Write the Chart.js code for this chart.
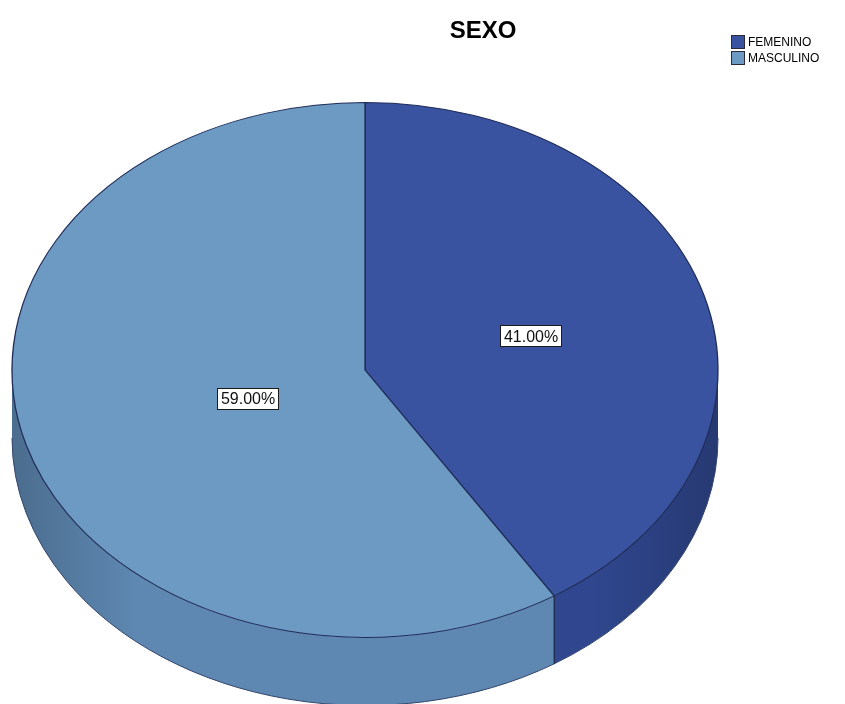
<!DOCTYPE html>
<html>
<head>
<meta charset="utf-8">
<title>SEXO</title>
<script src="https://cdn.jsdelivr.net/npm/chart.js@4.4.1/dist/chart.umd.min.js"></script>
<style>
  html, body { margin: 0; padding: 0; background: #fff; overflow: hidden; }
  #sexoChart { display: block; }
</style>
</head>
<body>
<canvas id="sexoChart" width="845" height="704"></canvas>
<script>
const chartTitle = 'SEXO';
const categories = ['FEMENINO', 'MASCULINO'];
const percentages = [41.00, 59.00];

// look of the slices
const topColors = ['#3a53a0', '#6d9ac3'];
const sideColors = ['#30478f', '#5e88b2'];
const labelRadius = [0.49, 0.345];   // label distance from centre, fraction of radius
const DEPTH = 68;                    // height of the cylinder wall in px
const FONT = '"Liberation Sans", Arial, sans-serif';

function shade(hex, f) {
    const n = parseInt(hex.slice(1), 16);
    const r = Math.round(((n >> 16) & 255) * f);
    const g = Math.round(((n >> 8) & 255) * f);
    const b = Math.round((n & 255) * f);
    return `rgb(${r},${g},${b})`;
}

// how much the round pie gets widened so it fills the chart area (makes the ellipse)
function stretchOf(chart) {
    const arc = chart.getDatasetMeta(0).data[0];
    return (chart.chartArea.width / 2) / arc.outerRadius;
}

const tiltedPie = {
    id: 'tiltedPie',
    beforeDatasetsDraw(chart) {
        const ctx = chart.ctx;
        const arcs = chart.getDatasetMeta(0).data;
        const {x, y, outerRadius} = arcs[0];
        const rx = outerRadius * stretchOf(chart);
        const ry = outerRadius;

        // front wall of the cylinder, only angles 0..PI can be seen
        arcs.forEach((arc, i) => {
            const a = arc.startAngle, b = arc.endAngle;
            const a0 = Math.max(a, 0), b0 = Math.min(b, Math.PI);
            if (b0 <= a0) return;

            const grad = ctx.createLinearGradient(x - rx, 0, x + rx, 0);
            grad.addColorStop(0, shade(sideColors[i], 0.8));
            grad.addColorStop(0.18, sideColors[i]);
            grad.addColorStop(0.82, sideColors[i]);
            grad.addColorStop(1, shade(sideColors[i], 0.8));

            ctx.save();
            ctx.beginPath();
            ctx.ellipse(x, y, rx, ry, 0, a0, b0);
            ctx.ellipse(x, y + DEPTH, rx, ry, 0, b0, a0, true);
            ctx.closePath();
            ctx.fillStyle = grad;
            ctx.fill();

            ctx.lineWidth = 1;
            ctx.strokeStyle = '#33446a';
            ctx.beginPath();
            ctx.ellipse(x, y + DEPTH, rx, ry, 0, a0, b0);
            ctx.stroke();

            // vertical edge where two slices meet
            [a, b].forEach(t => {
                if (t > 0 && t < Math.PI) {
                    const px = x + rx * Math.cos(t);
                    const py = y + ry * Math.sin(t);
                    ctx.beginPath();
                    ctx.moveTo(px, py);
                    ctx.lineTo(px, py + DEPTH);
                    ctx.strokeStyle = '#14203f';
                    ctx.stroke();
                }
            });
            ctx.restore();
        });

        // top face: widen the pie around its centre, restored after drawing
        ctx.save();
        ctx.translate(x, y);
        ctx.scale(stretchOf(chart), 1);
        ctx.translate(-x, -y);
    },
    afterDatasetsDraw(chart) {
        const ctx = chart.ctx;
        ctx.restore();

        const arcs = chart.getDatasetMeta(0).data;
        const sx = stretchOf(chart);
        ctx.save();
        ctx.font = '16px ' + FONT;
        ctx.textAlign = 'center';
        ctx.textBaseline = 'middle';
        arcs.forEach((arc, i) => {
            const mid = (arc.startAngle + arc.endAngle) / 2;
            const r = arc.outerRadius * labelRadius[i];
            const px = arc.x + sx * r * Math.cos(mid);
            const py = arc.y + r * Math.sin(mid) + 3;
            const text = percentages[i].toFixed(2) + '%';
            const w = Math.round(ctx.measureText(text).width + 8);
            const h = 22;
            const bx = Math.round(px - w / 2), by = Math.round(py - h / 2);
            ctx.fillStyle = '#fff';
            ctx.fillRect(bx, by, w, h);
            ctx.strokeStyle = '#1a1a1a';
            ctx.lineWidth = 1;
            ctx.strokeRect(bx + 0.5, by + 0.5, w - 1, h - 1);
            ctx.fillStyle = '#111';
            ctx.fillText(text, px, py + 1);
        });
        ctx.restore();
    }
};

// title and legend sit in the top band, drawn by hand
const header = {
    id: 'header',
    afterDraw(chart) {
        const ctx = chart.ctx;
        ctx.save();
        ctx.fillStyle = '#000';
        ctx.font = 'bold 24px ' + FONT;
        ctx.textAlign = 'center';
        ctx.textBaseline = 'alphabetic';
        ctx.fillText(chartTitle, 483, 38);

        ctx.font = '12px ' + FONT;
        ctx.textAlign = 'left';
        ctx.textBaseline = 'middle';
        chart.data.labels.forEach((label, i) => {
            const ly = 42 + i * 16;
            ctx.fillStyle = chart.data.datasets[0].backgroundColor[i];
            ctx.fillRect(731, ly - 7, 14, 14);
            ctx.strokeStyle = '#2a2a3a';
            ctx.lineWidth = 1;
            ctx.strokeRect(731.5, ly - 6.5, 13, 13);
            ctx.fillStyle = '#000';
            ctx.fillText(label, 748, ly + 1);
        });
        ctx.restore();
    }
};

const ctx = document.getElementById('sexoChart').getContext('2d');
new Chart(ctx, {
    type: 'pie',
    data: {
        labels: categories,
        datasets: [{
            data: percentages,
            backgroundColor: topColors,
            borderColor: '#202d58',
            borderWidth: 1,
            hoverOffset: 0,
            clip: false
        }]
    },
    options: {
        responsive: false,
        animation: false,
        events: [],
        layout: {
            padding: {left: 12, right: 127, top: 102, bottom: 66}
        },
        plugins: {
            legend: {display: false},
            title: {display: false},
            tooltip: {enabled: false}
        }
    },
    plugins: [tiltedPie, header]
});
</script>
</body>
</html>
